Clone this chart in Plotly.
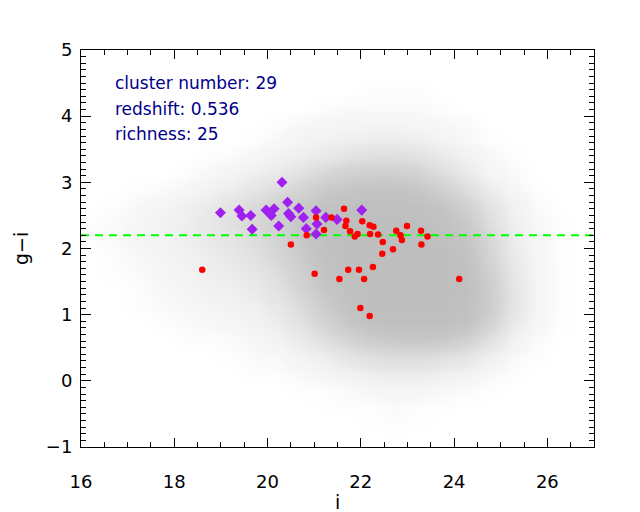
import plotly.graph_objects as go

# ---------------- data ----------------
X_RANGE = [16, 27]
Y_RANGE = [-1, 5]
CUT_GI = 2.2

# cluster members (purple diamonds)
MEMBER_I = [18.99, 19.39, 19.45, 19.64, 19.67, 19.97, 20.14, 20.08, 20.24, 20.31,
            20.43, 20.45, 20.50, 20.67, 20.77, 20.83, 21.04, 21.06, 21.04, 21.25,
            21.49, 22.02]
MEMBER_GI = [2.54, 2.58, 2.49, 2.50, 2.29, 2.58, 2.60, 2.50, 2.34, 3.00,
             2.70, 2.53, 2.48, 2.61, 2.47, 2.30, 2.57, 2.37, 2.22, 2.47,
             2.44, 2.58]

# other galaxies in the cluster field (red dots)
FIELD_I = [18.60, 20.50, 20.84, 21.01, 21.04, 21.21, 21.37, 21.54, 21.64, 21.69,
           21.67, 21.73, 21.77, 21.87, 21.93, 21.96, 21.99, 22.03, 22.07, 22.19,
           22.20, 22.19, 22.26, 22.27, 22.37, 22.46, 22.47, 22.69, 22.76, 22.85,
           22.88, 22.99, 23.29, 23.30, 23.43, 24.11]
FIELD_GI = [1.68, 2.06, 2.20, 1.62, 2.47, 2.28, 2.47, 1.54, 2.60, 2.42,
            2.34, 1.68, 2.26, 2.18, 2.22, 1.68, 1.10, 2.41, 1.54, 2.35,
            2.22, 0.98, 1.72, 2.33, 2.21, 1.92, 2.10, 1.99, 2.27, 2.20,
            2.13, 2.34, 2.27, 2.06, 2.18, 1.54]

# background galaxy density (fraction of filled pixels)
GRID_X = [16.25, 16.75, 17.25, 17.75, 18.25, 18.75, 19.25, 19.75, 20.25, 20.75, 21.25,
          21.75, 22.25, 22.75, 23.25, 23.75, 24.25, 24.75, 25.25, 25.75, 26.25, 26.75]
GRID_Y = [-0.875, -0.625, -0.375, -0.125, 0.125, 0.375, 0.625, 0.875, 1.125, 1.375,
          1.625, 1.875, 2.125, 2.375, 2.625, 2.875, 3.125, 3.375, 3.625, 3.875,
          4.125, 4.375, 4.625, 4.875]
GRID_Z = [
    [0, 0, 0, 0, 0, 0, 0, 0, 0, 0, 0, 0, 0, 0, 0, 0, 0, 0, 0, 0, 0, 0],
    [0, 0, 0, 0, 0, 0, 0, 0, 0, 0, 0, 0, .005, .01, .005, 0, 0, 0, 0, 0, 0, 0],
    [0, 0, 0, 0, 0, 0, 0, 0, 0, 0, .005, .01, .01, .02, .01, .01, 0, 0, 0, 0, 0, 0],
    [0, 0, 0, 0, 0, 0, 0, 0, 0, .01, .01, .02, .04, .05, .05, .03, .02, .01, 0, 0, 0, 0],
    [0, 0, 0, 0, 0, 0, 0, .01, .01, .03, .05, .08, .12, .14, .14, .10, .07, .03, .01, 0, 0, 0],
    [0, 0, 0, 0, 0, 0, .01, .02, .03, .07, .12, .22, .30, .35, .35, .30, .22, .10, .03, .01, 0, 0],
    [0, 0, 0, 0, .01, .01, .02, .04, .07, .15, .30, .48, .64, .72, .74, .70, .55, .28, .08, .02, 0, 0],
    [0, 0, 0, .01, .02, .03, .04, .07, .12, .26, .48, .74, .90, .96, .96, .94, .85, .50, .16, .04, .01, 0],
    [0, 0, .01, .02, .03, .05, .07, .10, .18, .36, .64, .88, .99, 1, 1, 1, .94, .62, .22, .05, .01, 0],
    [0, 0, .01, .03, .05, .08, .10, .15, .25, .48, .76, .94, 1, 1, 1, 1, .95, .62, .22, .05, .01, 0],
    [0, .01, .02, .04, .06, .10, .14, .20, .33, .58, .84, .97, 1, 1, 1, 1, .93, .56, .19, .05, .01, 0],
    [0, .01, .03, .05, .08, .12, .17, .26, .42, .68, .90, .99, 1, 1, 1, 1, .88, .48, .16, .04, .01, 0],
    [.01, .02, .04, .06, .10, .15, .22, .33, .48, .74, .93, .99, 1, 1, 1, .96, .80, .42, .13, .04, .01, 0],
    [.01, .02, .04, .07, .11, .17, .28, .42, .58, .76, .93, .99, 1, 1, .99, .92, .70, .32, .10, .03, .01, 0],
    [0, .01, .03, .05, .09, .14, .25, .38, .55, .68, .86, .95, .97, .97, .93, .80, .55, .24, .08, .02, 0, 0],
    [0, 0, .01, .02, .04, .08, .13, .22, .33, .50, .70, .80, .85, .85, .76, .55, .32, .13, .04, .01, 0, 0],
    [0, 0, 0, 0, .01, .03, .06, .10, .16, .27, .42, .53, .58, .58, .48, .32, .16, .05, .02, 0, 0, 0],
    [0, 0, 0, 0, 0, .01, .02, .04, .08, .12, .18, .26, .31, .31, .26, .16, .08, .03, .01, 0, 0, 0],
    [0, 0, 0, 0, 0, 0, 0, .01, .03, .06, .08, .10, .12, .12, .10, .06, .03, .01, 0, 0, 0, 0],
    [0, 0, 0, 0, 0, 0, 0, 0, .01, .03, .04, .05, .05, .05, .04, .03, .02, 0, 0, 0, 0, 0],
    [0, 0, 0, 0, 0, 0, 0, 0, 0, 0, .01, .02, .02, .02, .02, .01, 0, 0, 0, 0, 0, 0],
    [0, 0, 0, 0, 0, 0, 0, 0, 0, 0, 0, 0, .01, .01, .01, 0, 0, 0, 0, 0, 0, 0],
    [0, 0, 0, 0, 0, 0, 0, 0, 0, 0, 0, 0, 0, 0, 0, 0, 0, 0, 0, 0, 0, 0],
    [0, 0, 0, 0, 0, 0, 0, 0, 0, 0, 0, 0, 0, 0, 0, 0, 0, 0, 0, 0, 0, 0],
]

INFO_LINES = ["cluster number: 29", "redshift: 0.536", "richness: 25"]
INFO_Y = [4.50, 4.11, 3.73]
INFO_X = 16.69

# ---------------- figure ----------------
fig = go.Figure()

fig.add_trace(go.Heatmap(
    x=GRID_X, y=GRID_Y, z=GRID_Z, zmin=0, zmax=1, zsmooth="best",
    colorscale=[[0, "rgb(255,255,255)"], [0.03, "rgb(247,247,247)"],
                [0.15, "rgb(233,233,233)"], [0.4, "rgb(215,215,215)"],
                [0.75, "rgb(198,198,198)"], [1, "rgb(190,190,190)"]],
    showscale=False, hoverinfo="skip"))

fig.add_trace(go.Scatter(
    x=X_RANGE, y=[CUT_GI, CUT_GI], mode="lines",
    line=dict(color="#00FF00", width=2, dash="8px,6px"), hoverinfo="skip"))

fig.add_trace(go.Scatter(
    x=MEMBER_I, y=MEMBER_GI, mode="markers",
    marker=dict(symbol="diamond", size=8.5, color="#A020F0", line=dict(width=0))))

fig.add_trace(go.Scatter(
    x=FIELD_I, y=FIELD_GI, mode="markers",
    marker=dict(symbol="circle", size=6.5, color="#FF0000", line=dict(width=0))))

for txt, yy in zip(INFO_LINES, INFO_Y):
    fig.add_annotation(x=INFO_X, y=yy, xref="x", yref="y", text=txt, showarrow=False,
                       xanchor="left", yanchor="middle",
                       font=dict(family="DejaVu Sans", size=17, color="rgb(0,0,139)"))

fig.add_annotation(x=0.5, y=-0.1385, xref="paper", yref="paper", text="i",
                   showarrow=False, xanchor="center", yanchor="middle",
                   font=dict(family="DejaVu Sans", size=19, color="black"))
fig.add_annotation(x=-0.118, y=2.0, xref="paper", yref="y", text="g\u2212i",
                   showarrow=False, textangle=-90, xanchor="center", yanchor="middle",
                   font=dict(family="DejaVu Sans", size=19, color="black"))

axis_common = dict(
    showline=True, linecolor="black", linewidth=1, mirror="ticks",
    ticks="inside", tickcolor="black", tickwidth=1,
    showgrid=False, zeroline=False,
    tickfont=dict(family="DejaVu Sans", size=18, color="black"),
)

fig.update_xaxes(range=X_RANGE, tick0=16, dtick=2, ticklen=9, ticklabelstandoff=18,
                 minor=dict(dtick=0.5, ticklen=5, ticks="inside", tickcolor="black",
                            tickwidth=1, showgrid=False),
                 **axis_common)
fig.update_yaxes(range=Y_RANGE, tick0=0, dtick=1, ticklen=10, ticklabelstandoff=4,
                 minor=dict(dtick=0.1, ticklen=5, ticks="inside", tickcolor="black",
                            tickwidth=1, showgrid=False),
                 **axis_common)

# the page adds an 8px body margin, so shift the figure margins to compensate
fig.update_layout(
    width=640, height=512,
    margin=dict(l=73, r=54, t=42, b=73),
    paper_bgcolor="white", plot_bgcolor="white",
    showlegend=False,
)

fig.write_html("out.html")
